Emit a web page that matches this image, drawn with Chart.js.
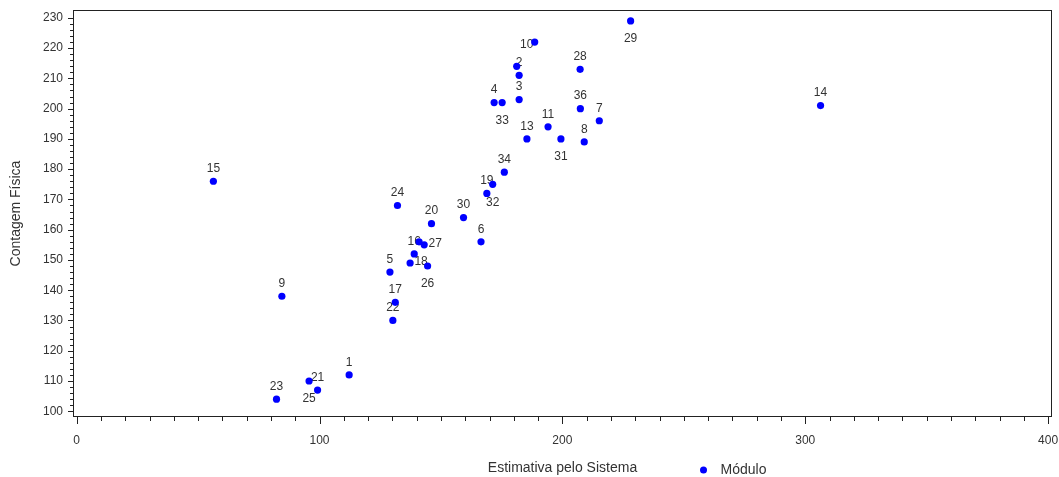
<!DOCTYPE html>
<html>
<head>
<meta charset="utf-8">
<script src="https://cdn.jsdelivr.net/npm/chart.js@4/dist/chart.umd.min.js"></script>
<style>
  html, body { margin: 0; padding: 0; background: #fff; }
  #wrap { position: relative; width: 1059px; height: 477px; }
</style>
</head>
<body>
<div id="wrap"><canvas id="grafico"></canvas></div>
<script>
"use strict";

// numero do modulo, estimativa (x), contagem fisica (y)
const modulos = ['1','2','3','4','5','6','7','8','9','10','11','12','13','14','15','16','17','18',
                 '19','20','21','22','23','24','25','26','27','28','29','30','31','32','33','34','35','36'];
const estimativa = [112.2, 182.2, 182.2, 171.9, 129.0, 166.5, 215.2, 209.0, 84.5, 188.6, 194.1, 181.2,
                    185.4, 306.3, 56.3, 139.0, 131.2, 137.3, 168.9, 146.1, 99.2, 130.2, 82.3, 132.1,
                    95.7, 144.5, 143.1, 207.3, 228.1, 159.3, 199.4, 171.3, 175.2, 176.1, 141.0, 207.4];
const contagem = [112, 211, 203, 202, 146, 156, 196, 189, 138, 222, 194, 214,
                  190, 201, 176, 152, 136, 149, 172, 162, 107, 130, 104, 168,
                  110, 148, 155, 213, 229, 164, 190, 175, 202, 179, 156, 200];
// onde fica o rotulo de cada ponto (sem rotulo = '')
const posRotulo = ['top','top','top','top','top','top','top','top','top','left','top','',
                   'top','top','top','top','top','right','top','top','top','top','top','top',
                   'bottom','bottom','right','top','bottom','top','bottom','bottom','bottom','top','','top'];

const xTicks = [0, 100, 200, 300, 400];
const yTicks = [100, 110, 120, 130, 140, 150, 160, 170, 180, 190, 200, 210, 220, 230];

const corTexto = '#333333';
const corEixo = '#222222';
const fonte = '"Liberation Sans", Arial, sans-serif';

const desloc = { top: [0, -12.5], bottom: [0, 18], left: [-8, 3], right: [11, -1] };

const rotulos = {
  id: 'rotulos',
  beforeDatasetsDraw(chart) {
    const ctx = chart.ctx;
    const meta = chart.getDatasetMeta(0);
    ctx.save();
    ctx.font = '12px ' + fonte;
    ctx.fillStyle = corTexto;
    ctx.textAlign = 'center';
    ctx.textBaseline = 'middle';
    meta.data.forEach((pt, i) => {
      const d = desloc[posRotulo[i]];
      if (!d) return;
      ctx.fillText(modulos[i], pt.x + d[0], pt.y + d[1]);
    });
    ctx.restore();
  }
};

const moldura = {
  id: 'moldura',
  afterDraw(chart) {
    const ctx = chart.ctx;
    const a = chart.chartArea;
    const sx = chart.scales.x, sy = chart.scales.y;
    ctx.save();
    ctx.strokeStyle = corEixo;
    ctx.lineWidth = 1;
    ctx.strokeRect(Math.round(a.left) + 0.5, Math.round(a.top) + 0.5,
                   Math.round(a.right - a.left) - 1, Math.round(a.bottom - a.top) - 1);
    ctx.beginPath();
    // marcas do eixo x
    for (let v = 0; v <= 400; v += 10) {
      const px = Math.round(sx.getPixelForValue(v)) + 0.5;
      const len = v % 100 === 0 ? 7 : 4;
      ctx.moveTo(px, a.bottom);
      ctx.lineTo(px, a.bottom + len);
    }
    // marcas do eixo y
    for (let v = 100; v <= 230; v += 2) {
      const py = Math.round(sy.getPixelForValue(v)) + 0.5;
      const len = v % 10 === 0 ? 5 : 3;
      ctx.moveTo(a.left, py);
      ctx.lineTo(a.left - len, py);
    }
    ctx.stroke();

    // legenda
    const cx = (a.left + a.right) / 2;
    ctx.fillStyle = '#0000ff';
    ctx.beginPath();
    ctx.arc(cx + 141, 470, 3.5, 0, Math.PI * 2);
    ctx.fill();
    ctx.fillStyle = corTexto;
    ctx.font = '14px ' + fonte;
    ctx.textAlign = 'left';
    ctx.textBaseline = 'middle';
    ctx.fillText('Módulo', cx + 158, 470);
    ctx.restore();
  }
};

new Chart(document.getElementById('grafico'), {
  type: 'scatter',
  data: {
    datasets: [{
      label: 'Módulo',
      data: estimativa.map((x, i) => ({ x: x, y: contagem[i] })),
      backgroundColor: '#0000ff',
      borderWidth: 0,
      pointRadius: 3.6,
      pointHoverRadius: 3.6
    }]
  },
  options: {
    responsive: true,
    maintainAspectRatio: false,
    animation: false,
    events: [],
    layout: { padding: { top: 10, right: 7, left: 0, bottom: 0 } },
    plugins: {
      legend: { display: false },
      tooltip: { enabled: false }
    },
    scales: {
      x: {
        type: 'linear',
        min: -1.5,
        max: 401.6,
        afterFit: s => { s.height = 60; s.paddingLeft = 0; s.paddingRight = 0; },
        afterBuildTicks: s => { s.ticks = xTicks.map(v => ({ value: v })); },
        grid: { display: false, drawTicks: false },
        border: { display: false },
        ticks: { color: corTexto, font: { family: fonte, size: 12 }, padding: 16, maxRotation: 0, autoSkip: false },
        title: { display: true, text: 'Estimativa pelo Sistema', color: corTexto,
                 font: { family: fonte, size: 14 }, padding: { top: 0, bottom: 0 } }
      },
      y: {
        type: 'linear',
        min: 98.1,
        max: 232.6,
        afterFit: s => { s.width = 73; s.paddingTop = 0; s.paddingBottom = 0; },
        afterBuildTicks: s => { s.ticks = yTicks.map(v => ({ value: v })); },
        grid: { display: false, drawTicks: false },
        border: { display: false },
        ticks: { color: corTexto, font: { family: fonte, size: 12 }, padding: 10, autoSkip: false },
        title: { display: true, text: 'Contagem Física', color: corTexto,
                 font: { family: fonte, size: 14 }, padding: { top: 8, bottom: 0 } }
      }
    }
  },
  plugins: [rotulos, moldura]
});
</script>
</body>
</html>
